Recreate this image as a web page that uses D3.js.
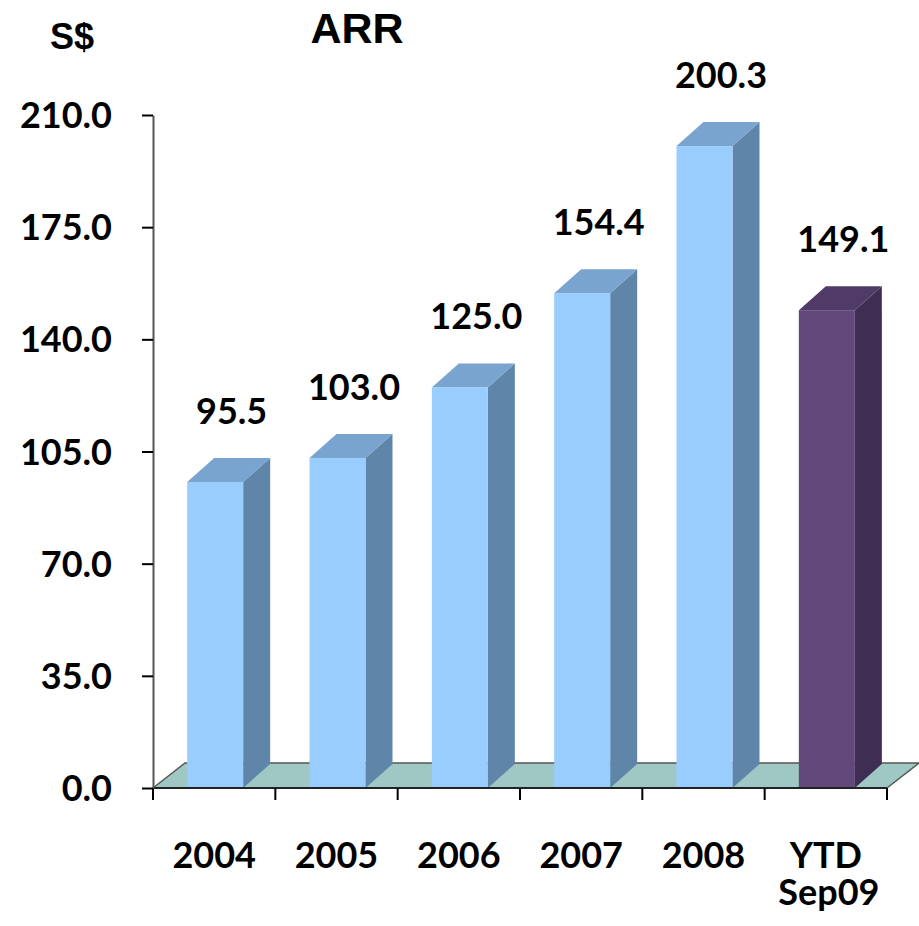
<!DOCTYPE html>
<html>
<head>
<meta charset="utf-8">
<script src="https://cdn.jsdelivr.net/npm/d3@7/dist/d3.min.js"></script>
<style>
  html, body { margin: 0; padding: 0; background: #fff; }
  svg { display: block; }
  .num { font-family: Lato, "Open Sans", sans-serif; font-weight: 700; fill: #000; }
  .head { font-family: "Liberation Sans", Arial, sans-serif; font-weight: 700; fill: #000; }
</style>
</head>
<body>
<svg id="chart" width="919" height="926"></svg>
<script>
// ARR by year, S$
const categories = ["2004", "2005", "2006", "2007", "2008", "YTD\nSep09"];
const arrValues = [95.5, 103.0, 125.0, 154.4, 200.3, 149.1];
const yTicks = [0, 35, 70, 105, 140, 175, 210];

const svg = d3.select("#chart");

const x = d3.scaleBand().domain(categories).range([153, 887]).padding(0);
const y = d3.scaleLinear().domain([0, 210]).range([788, 115]);

// depth offsets for the pseudo-3D look
const floorDx = 32, floorDy = -25;
const barDx = 27, barDy = -24;
const barW = 56;

const palette = {
  normal: { front: "#99ccff", side: "#5f85a9", top: "#7aa4d0" },
  ytd:    { front: "#62487a", side: "#3f2d53", top: "#4f3a68" }
};

// floor
const y0 = y(0);
const fl = x.range()[0], fr = x.range()[1];
svg.append("path")
  .attr("d", `M${fl},${y0} L${fr},${y0} L${fr + floorDx},${y0 + floorDy} L${fl + floorDx},${y0 + floorDy} Z`)
  .attr("fill", "#9fc8c5");
svg.append("path")
  .attr("d", `M${fl},${y0} L${fl + floorDx},${y0 + floorDy} L${fr + floorDx},${y0 + floorDy} L${fr},${y0}`)
  .attr("fill", "none").attr("stroke", "#555").attr("stroke-width", 1.5);

// bars
const bars = svg.append("g");
categories.forEach((c, i) => {
  const v = arrValues[i];
  const col = i === categories.length - 1 ? palette.ytd : palette.normal;
  const xl = x(c) + x.bandwidth() / 2 - barW / 2 + 1;
  const xr = xl + barW;
  const yt = y(v);
  const g = bars.append("g");
  // side
  g.append("path")
    .attr("d", `M${xr},${y0} L${xr},${yt} L${xr + barDx},${yt + barDy} L${xr + barDx},${y0 + barDy} Z`)
    .attr("fill", col.side);
  // top
  g.append("path")
    .attr("d", `M${xl},${yt} L${xr},${yt} L${xr + barDx},${yt + barDy} L${xl + barDx},${yt + barDy} Z`)
    .attr("fill", col.top);
  // front
  g.append("rect")
    .attr("x", xl).attr("y", yt).attr("width", barW).attr("height", y0 - yt)
    .attr("fill", col.front);
  // value label
  g.append("text").attr("class", "num")
    .attr("x", xl + barW / 2 + barDx / 2 + 3)
    .attr("y", yt + barDy - 34)
    .attr("text-anchor", "middle")
    .attr("font-size", 36)
    .text(v.toFixed(1));
});

// front edge of the floor (category axis line)
svg.append("line")
  .attr("x1", fl).attr("x2", fr).attr("y1", y0).attr("y2", y0)
  .attr("stroke", "#222").attr("stroke-width", 2);

// category tick marks at band boundaries
const bounds = categories.map(c => x(c)).concat([x.range()[1]]);
svg.append("g").selectAll("line").data(bounds).join("line")
  .attr("x1", d => d).attr("x2", d => d)
  .attr("y1", y0).attr("y2", y0 + 12)
  .attr("stroke", "#000").attr("stroke-width", 2);

// category labels
categories.forEach(c => {
  const lines = c.split("\n");
  const t = svg.append("text").attr("class", "num")
    .attr("font-size", 36).attr("text-anchor", "middle");
  lines.forEach((ln, k) => {
    t.append("tspan")
      .attr("x", x(c) + x.bandwidth() / 2 + (k > 0 ? 3 : 0))
      .attr("y", 868 + k * 37)
      .text(ln);
  });
});

// value axis
const yAxis = d3.axisLeft(y)
  .tickValues(yTicks)
  .tickFormat(d3.format(".1f"))
  .tickSize(11)
  .tickSizeOuter(0)
  .tickPadding(30);
const ya = svg.append("g").attr("transform", `translate(${fl},0)`).call(yAxis);
ya.select(".domain").attr("stroke", "#555").attr("stroke-width", 2);
ya.selectAll(".tick line").attr("stroke", "#000").attr("stroke-width", 2);
ya.selectAll(".tick text")
  .attr("class", "num")
  .attr("font-size", 36)
  .attr("dy", "0.35em")
  .style("font-family", "Lato, 'Open Sans', sans-serif")
  .style("font-weight", 700);

// headings
svg.append("text").attr("class", "head")
  .attr("x", 50).attr("y", 49)
  .attr("font-size", 36).text("S$");
svg.append("text").attr("class", "head")
  .attr("x", 357).attr("y", 43).attr("text-anchor", "middle")
  .attr("font-size", 43).text("ARR");
</script>
</body>
</html>
